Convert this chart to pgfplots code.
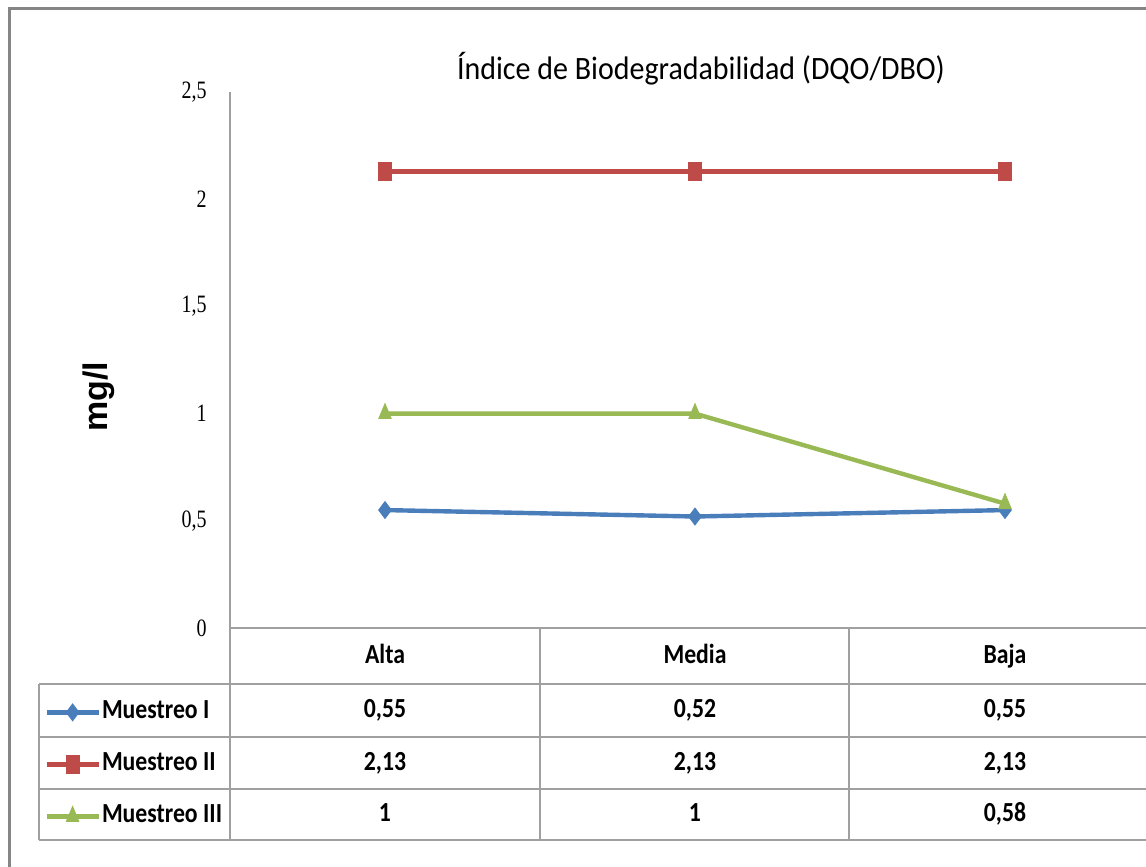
\documentclass[border=0pt]{standalone}
\usepackage{fontspec}
\setmainfont{Carlito}
\newfontfamily\narrowfont[FakeStretch=0.86]{Carlito}
\newfontfamily\titlefont[FakeStretch=0.92]{Carlito}
\newfontfamily\tickfont[FakeStretch=0.8]{Liberation Serif}
\newfontfamily\labfont{Liberation Sans}
\usepackage{pgfplots}
\pgfplotsset{compat=1.18}
\definecolor{sblue}{HTML}{4A7EBB}
\definecolor{sred}{HTML}{BE4B48}
\definecolor{sgreen}{HTML}{98B954}
\definecolor{gridg}{HTML}{A0A0A0}
\definecolor{borderg}{HTML}{858585}
\begin{document}
\begin{tikzpicture}
\useasboundingbox (0,0) rectangle (573pt,433.5pt);
\begin{scope}
\clip (0,0) rectangle (573pt,433.5pt);
\begin{axis}[
 at={(115pt,119.5pt)}, anchor=south west,
 scale only axis, width=465pt, height=268pt,
 xmin=-0.5, xmax=2.5, ymin=0, ymax=2.5,
 axis lines*=left,
 axis line style={draw=gridg, line width=1pt},
 major tick length=0pt,
 xtick={0,1,2}, xticklabels={Alta,Media,Baja},
 x tick label style={anchor=base, yshift=-17.75pt, font=\narrowfont\fontsize{13.8}{16}\selectfont\bfseries, inner sep=0pt},
 ytick={0,0.5,1,1.5,2,2.5}, yticklabels={0,{0,5},1,{1,5},2,{2,5}},
 y tick label style={anchor=east, xshift=-11.5pt, inner sep=0pt, font=\tickfont\fontsize{12.5}{14}\selectfont},
 legend style={at={(-0.2,-0.1343)}, anchor=north west, draw=none, fill=none, inner sep=0pt, row sep=14pt, column sep=0.6pt, nodes={inner sep=0pt, text height=9pt, text depth=3pt, font=\narrowfont\fontsize{13.8}{16}\selectfont\bfseries}},
 legend cell align=left,
 legend image code/.code={\draw[mark repeat=2, mark phase=2, #1] plot coordinates {(0pt,0pt)(13pt,0pt)(26pt,0pt)};},
]
\addplot[sblue, line width=2.2pt, mark=diamond*, mark size=4.25pt, mark options={solid, line width=0.4pt}] coordinates {(0,0.55)(1,0.52)(2,0.55)};
\addlegendentry{Muestreo I}
\addplot[sred, line width=2.2pt, mark=square*, mark size=4.5pt, mark options={solid, line width=0.4pt, xscale=0.72}] coordinates {(0,2.13)(1,2.13)(2,2.13)};
\addlegendentry{Muestreo II}
\addplot[sgreen, line width=2.2pt, mark=triangle*, mark size=5pt, mark options={solid, line width=0.4pt, xscale=0.72}] coordinates {(0,1)(1,1)(2,0.58)};
\addlegendentry{Muestreo III}
\end{axis}
\begin{scope}[x=0.5pt, y=0.5pt]
\draw[borderg, line width=1.5pt] (9,858) rectangle (1170,-20);
\draw[gridg, line width=1pt] (39,183) -- (1170,183);
\draw[gridg, line width=1pt] (39,130) -- (1170,130);
\draw[gridg, line width=1pt] (39,78) -- (1170,78);
\draw[gridg, line width=1pt] (39,27) -- (1170,27);
\draw[gridg, line width=1pt] (39,183) -- (39,27);
\draw[gridg, line width=1pt] (230,239) -- (230,27);
\draw[gridg, line width=1pt] (540,239) -- (540,27);
\draw[gridg, line width=1pt] (849,239) -- (849,27);
\draw[gridg, line width=1pt] (1160,239) -- (1160,27);
\begin{scope}[every node/.style={anchor=base, inner sep=0pt, font=\narrowfont\fontsize{13.8}{16}\selectfont\bfseries}]
\node at (385,149) {0,55}; \node at (695,149) {0,52}; \node at (1005,149) {0,55};
\node at (385,96.5) {2,13}; \node at (695,96.5) {2,13}; \node at (1005,96.5) {2,13};
\node at (385,45) {1}; \node at (695,45) {1}; \node at (1005,45) {0,58};
\end{scope}
\node[anchor=base, inner sep=0pt, font=\titlefont\fontsize{16.3}{19}\selectfont] at (701,787) {Índice de Biodegradabilidad (DQO/DBO)};
\node[rotate=90, inner sep=0pt, font=\labfont\bfseries\fontsize{17}{20}\selectfont] at (99,470) {mg/l};
\end{scope}
\end{scope}
\end{tikzpicture}
\end{document}
